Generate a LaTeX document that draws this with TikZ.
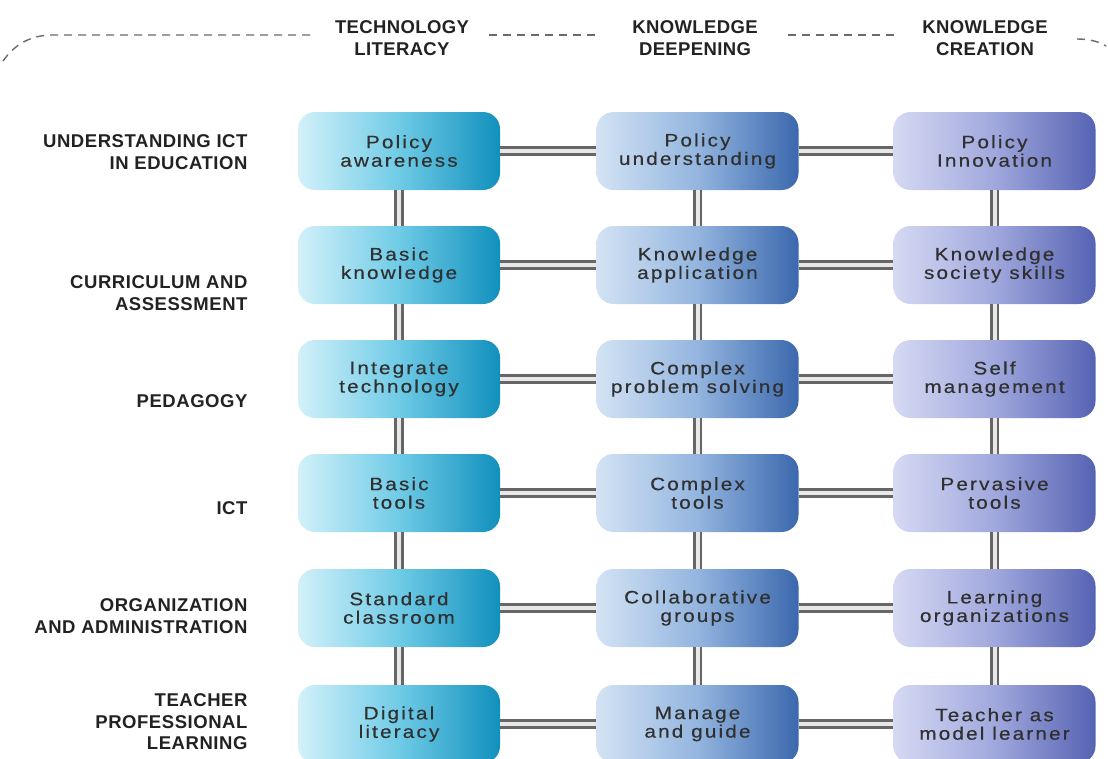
\documentclass[tikz,border=0pt]{standalone}
\usepackage{fontspec}
\setmainfont{Liberation Sans}
\newfontfamily\boxff[LetterSpace=12,FakeStretch=1.15,FakeBold=0.4]{Liberation Sans}
\newfontfamily\labff[LetterSpace=3]{Liberation Sans}
\newfontfamily\hdff[LetterSpace=2]{Liberation Sans}
\newcommand\boxfont{\boxff\fontsize{18}{18.5}\selectfont}
\newcommand\labfont{\labff\bfseries\fontsize{18.5}{21.5}\selectfont}
\newcommand\hdfont{\hdff\bfseries\fontsize{18.5}{21.5}\selectfont}
\definecolor{txt}{HTML}{303030}
\definecolor{labc}{HTML}{222222}
\definecolor{pipedark}{HTML}{666666}
\definecolor{pipelight}{HTML}{E8E8E8}
\definecolor{dashc}{HTML}{6A6A6A}
\definecolor{cAl}{HTML}{D2F1FA}
\definecolor{cAm}{HTML}{6FCBE6}
\definecolor{cAr}{HTML}{1190BD}
\definecolor{cBl}{HTML}{D3E3F4}
\definecolor{cBm}{HTML}{93B5DF}
\definecolor{cBr}{HTML}{3B68AD}
\definecolor{cCl}{HTML}{D5D9F3}
\definecolor{cCm}{HTML}{A0A8DD}
\definecolor{cCr}{HTML}{5663B3}
\begin{document}
\begin{tikzpicture}[x=1pt,y=-1pt,
  box/.style={rounded corners=17pt, minimum width=202pt, minimum height=78pt,
    align=center, font=\boxfont, text=txt, inner sep=0pt},
  colA/.style={box, left color=cAl, right color=cAr, middle color=cAm},
  colB/.style={box, left color=cBl, right color=cBr, middle color=cBm},
  colC/.style={box, left color=cCl, right color=cCr, middle color=cCm},
  pipe/.style={draw=pipedark, line width=2.8pt, double=pipelight, double distance=4pt},
  lab/.style={font=\labfont, text=labc, align=right, anchor=east},
  hd/.style={font=\hdfont, text=labc, align=center},
  dashline/.style={draw=dashc, line width=1.4pt, dash pattern=on 8pt off 6pt}
]
\path[use as bounding box] (0,0) rectangle (1108,758);
\clip (0,0) rectangle (1108,758);

% header
\node[hd] (h1) at (402,38) {TECHNOLOGY\\LITERACY};
\node[hd] (h2) at (695,38) {KNOWLEDGE\\DEEPENING};
\node[hd] (h3) at (985,38) {KNOWLEDGE\\CREATION};
\coordinate (d0) at (3,61);
\coordinate (d1) at (50,35);
\coordinate (d2) at (315,35);
\coordinate (d3) at (489,35);
\coordinate (d4) at (598,35);
\coordinate (d5) at (788,35);
\coordinate (d6) at (895,35);
\coordinate (d7) at (1077,39);
\coordinate (d8) at (1106,46);
\draw[dashline] (d0) .. controls (15,44) and (30,36) .. (d1) -- (d2);
\draw[dashline] (d3) -- (d4);
\draw[dashline] (d5) -- (d6);
\draw[dashline] (d7) .. controls (1090,39) and (1100,42) .. (d8);

% row labels
\node[lab] (l1) at (251,152) {UNDERSTANDING ICT\\IN EDUCATION};
\node[lab] (l2) at (251,293) {CURRICULUM AND\\ASSESSMENT};
\node[lab] (l3) at (251,401) {PEDAGOGY};
\node[lab] (l4) at (251,508) {ICT};
\node[lab] (l5) at (251,616) {ORGANIZATION\\AND ADMINISTRATION};
\node[lab] (l6) at (251,722) {TEACHER\\PROFESSIONAL\\LEARNING};

% boxes
\node[colA] (b11) at (399,151) {Policy\\awareness};
\node[colB] (b12) at (697.5,151) {Policy\\understanding};
\node[colC] (b13) at (994.5,151) {Policy\\Innovation};
\node[colA] (b21) at (399,265) {Basic\\knowledge};
\node[colB] (b22) at (697.5,265) {Knowledge\\application};
\node[colC] (b23) at (994.5,265) {Knowledge\\society skills};
\node[colA] (b31) at (399,379) {Integrate\\technology};
\node[colB] (b32) at (697.5,379) {Complex\\problem solving};
\node[colC] (b33) at (994.5,379) {Self\\management};
\node[colA] (b41) at (399,493) {Basic\\tools};
\node[colB] (b42) at (697.5,493) {Complex\\tools};
\node[colC] (b43) at (994.5,493) {Pervasive\\tools};
\node[colA] (b51) at (399,608) {Standard\\classroom};
\node[colB] (b52) at (697.5,608) {Collaborative\\groups};
\node[colC] (b53) at (994.5,608) {Learning\\organizations};
\node[colA] (b61) at (399,724) {Digital\\literacy};
\node[colB] (b62) at (697.5,724) {Manage\\and guide};
\node[colC] (b63) at (994.5,724) {Teacher as\\model learner};

% horizontal pipes
\foreach \r in {1,...,6}{
  \draw[pipe] (b\r1.east) -- (b\r2.west);
  \draw[pipe] (b\r2.east) -- (b\r3.west);
}
% vertical pipes
\foreach \r [evaluate=\r as \n using int(\r+1)] in {1,...,5}{
  \foreach \c in {1,2,3}{
    \draw[pipe] (b\r\c.south) -- (b\n\c.north);
  }
}
\end{tikzpicture}
\end{document}
